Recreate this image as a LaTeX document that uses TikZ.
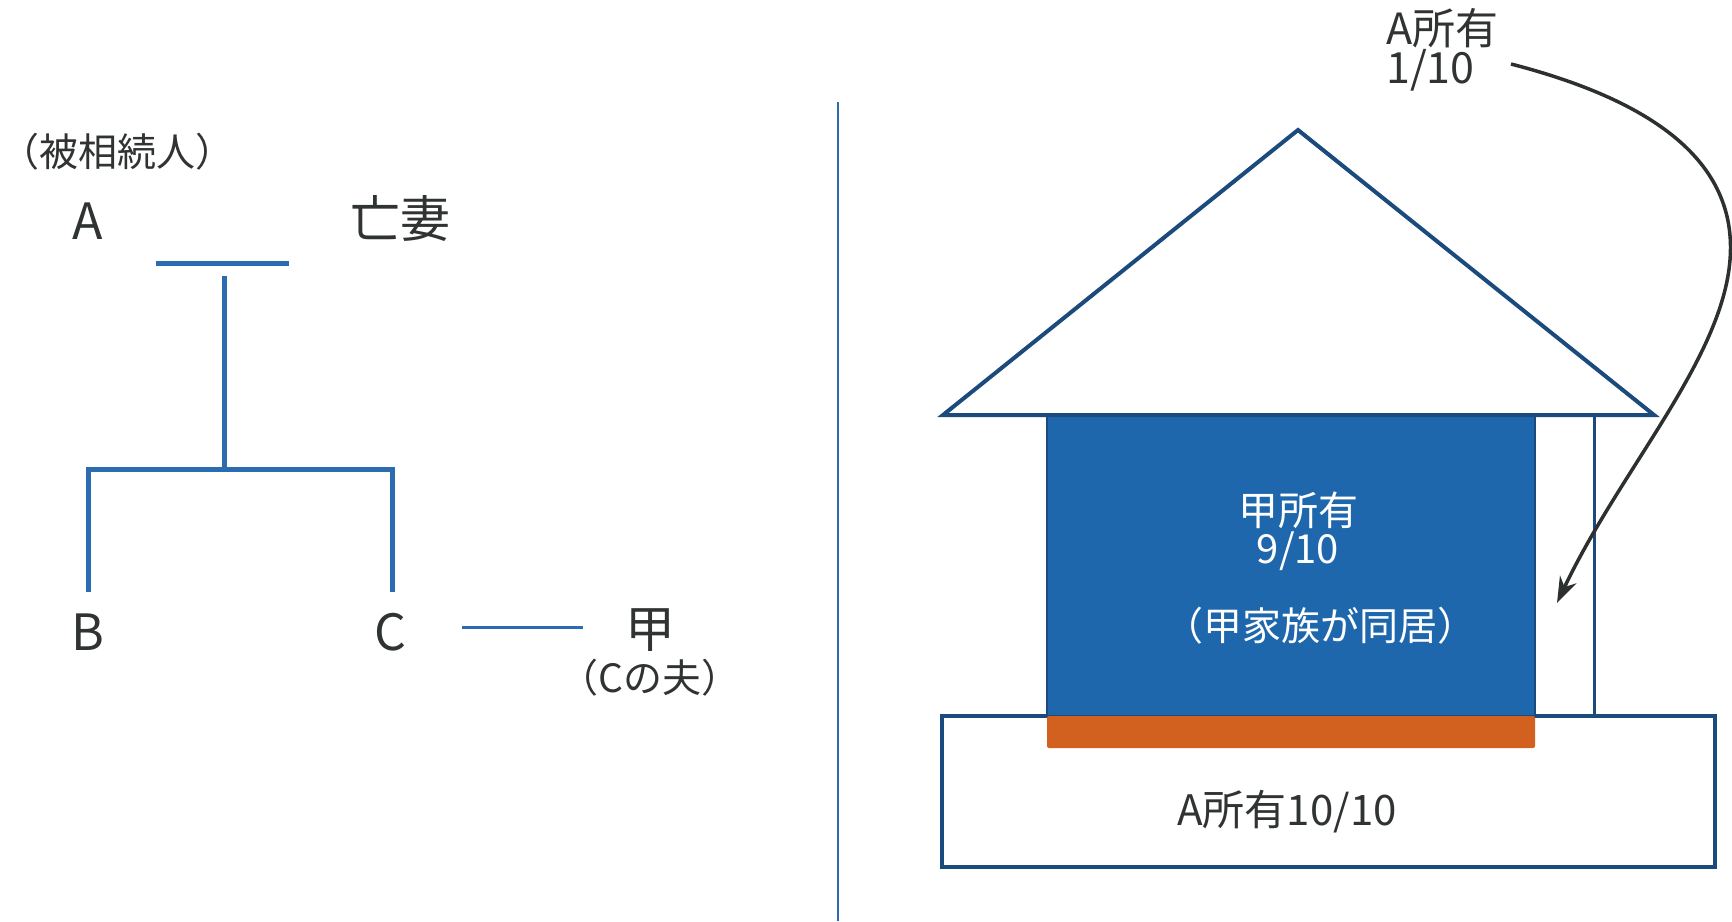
\documentclass[tikz,border=0pt]{standalone}
\usepackage{fontspec}
\setmainfont{Noto Sans CJK JP}
\usetikzlibrary{arrows.meta}

\definecolor{treeblue}{HTML}{2B6CB0}
\definecolor{navy}{HTML}{1B4A7C}
\definecolor{roomblue}{HTML}{1F67AC}
\definecolor{floororange}{HTML}{D2601F}
\definecolor{ink}{HTML}{2F3331}
\definecolor{arrowink}{HTML}{2C302E}

\tikzset{
  lbl/.style={inner sep=0pt, text=ink},
  big/.style={font=\fontsize{50}{54}\selectfont},
  mid/.style={font=\fontsize{40}{44}\selectfont},
  small/.style={font=\fontsize{39}{42}\selectfont},
  tree/.style={draw=treeblue, line width=5pt},
  spouse/.style={draw=treeblue, line width=3pt},
  divider/.style={draw=treeblue, line width=2pt},
  outline/.style={draw=navy, line width=4pt, line join=miter},
  wall/.style={draw=navy, line width=3pt},
  pointer/.style={draw=arrowink, line width=3.5pt,
    -{Stealth[length=26pt,width=18pt]}},
}

\begin{document}
\begin{tikzpicture}[x=1pt,y=-1pt]
\useasboundingbox (0,0) rectangle (1732,921);

% ---------- family tree ----------
\node[lbl, small] (decedent) at (118,152) {（被相続人）};
\node[lbl, big] (A) at (88,221) {A};
\node[lbl, big] (wife) at (400,219) {亡妻};
\node[lbl, big] (B) at (88,632) {B};
\node[lbl, big] (C) at (390,632) {C};
\node[lbl, big] (kou) at (650,630) {甲};
\node[lbl, small] (husband) at (650,678) {（Cの夫）};

\coordinate (mL) at (156,263);
\coordinate (mR) at (289,263);
\coordinate (d1) at (224,276);
\coordinate (d2) at (224,469);
\coordinate (hL) at (88,469);
\coordinate (hR) at (392,469);
\coordinate (bT) at (88,589);
\coordinate (cT) at (392,589);
\coordinate (sL) at (462,627);
\coordinate (sR) at (583,627);

\draw[tree] (mL) -- (mR);
\draw[tree] (d1) -- (d2);
\draw[tree, line cap=rect] (bT) -- (hL) -- (hR) -- (cT);
\draw[spouse] (sL) -- (sR);

% ---------- divider ----------
\coordinate (divT) at (838,102);
\coordinate (divB) at (838,921);
\draw[divider] (divT) -- (divB);

% ---------- house ----------
\coordinate (apex) at (1298,130);
\coordinate (eaveL) at (943,415);
\coordinate (eaveR) at (1654,415);

% ground (land) box
\draw[outline, fill=white] (942,716) rectangle (1715,867);
% occupied room
\draw[draw=navy, line width=2pt, fill=roomblue] (1047,415) rectangle (1535,716);
% floor strip
\fill[floororange, rounded corners=2pt] (1047,716) rectangle (1535,748);
% side wall
\draw[wall] (1594,415) -- (1594,716);
% roof
\draw[outline] (eaveL) -- (apex) -- (eaveR) -- cycle;

\node[lbl, text=white, mid] (own9) at (1298,510) {甲所有};
\node[lbl, text=white, mid] (frac9) at (1298,551) {9/10};
\node[lbl, text=white, small] (family) at (1320,626) {（甲家族が同居）};
\node[lbl, mid, font=\fontsize{42}{46}\selectfont] (land) at (1287,812) {A所有10/10};

% ---------- A's share ----------
\node[lbl, mid, font=\fontsize{43}{46}\selectfont, anchor=west] (ownA) at (1386,28) {A所有};
\node[lbl, mid, font=\fontsize{43}{46}\selectfont, anchor=west] (fracA) at (1386,70) {1/10};
\coordinate (arrS) at (1511,64);
\coordinate (arrE) at (1557,603);
\draw[pointer] (arrS) .. controls (1650,100) and (1738,160) .. (1730,260)
  .. controls (1722,360) and (1620,470) .. (arrE);
\end{tikzpicture}
\end{document}
